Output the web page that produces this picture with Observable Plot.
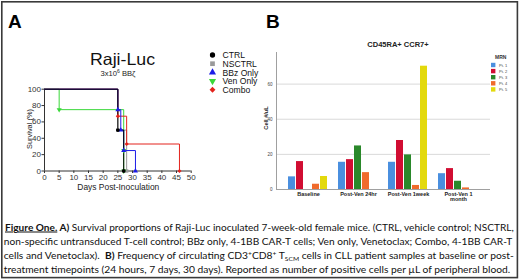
<!DOCTYPE html>
<html><head><meta charset="utf-8">
<script src="https://cdn.jsdelivr.net/npm/d3@7"></script>
<script src="https://cdn.jsdelivr.net/npm/@observablehq/plot@0.6"></script>
<style>
html,body{margin:0;padding:0;background:#fff;}
#wrap{position:relative;width:520px;height:280px;overflow:hidden;background:#fff;font-family:"Liberation Sans",Arial,sans-serif;}
#wrap > *{position:absolute;left:0;top:0;}
#bbars g[aria-label="fx-axis tick label"] text{font-weight:bold;}
</style></head><body><div id="wrap"></div>
<script>
// ---------- Panel A data: Kaplan-Meier survival ----------
const survGroups = ["CTRL", "NSCTRL", "BBz Only", "Ven Only", "Combo"];
const survColors = ["#000000", "#9a9a9a", "#1c1ce6", "#3ad83a", "#e3231c"];
const survSymbols = ["circle", "square", "triangle", "triangle", "diamond2"];
const ctrlDays = [0, 25, 27];           const ctrlSurv = [100, 50, 0];
const nsctrlDays = [0, 25, 28];         const nsctrlSurv = [100, 50, 0];
const bbzDays = [0, 25, 26, 27, 31];    const bbzSurv = [100, 75, 50, 25, 0];
const venDays = [0, 5, 27, 27];         const venSurv = [100, 75, 25, 0];
const comboDays = [0, 25, 28, 46];      const comboSurv = [100, 67, 33, 0];
const dayTicks = [0, 5, 10, 15, 20, 25, 30, 35, 40, 45, 50];
const survTicks = [0, 20, 40, 60, 80, 100];

// ---------- Panel B data: cells per uL ----------
const timepoints = ["Baseline", "Post-Ven 24hr", "Post-Ven 1week", "Post-Ven 1\nmonth"];
const patients = ["Pt. 1", "Pt. 2", "Pt. 3", "Pt. 4", "Pt. 5"];
const patientColors = ["#4a8fdf", "#d10d32", "#2a882a", "#f06a2c", "#e3d90c"];
const pt1 = [7.2, 15.5, 15.5, 9.0];
const pt2 = [15.9, 17.0, 27.9, 11.9];
const pt3 = [0, 24.8, 19.7, 4.7];
const pt4 = [3.0, 9.6, 2.3, 0.9];
const pt5 = [7.4, 0, 70.2, 0];
const cellTicks = [0, 20, 40, 60];

// ---------- build tables ----------
const survTable = [];
const addSeries = (g, days, surv) => days.forEach((d, i) => survTable.push({group: g, day: d, surv: surv[i]}));
addSeries("NSCTRL", nsctrlDays, nsctrlSurv);
addSeries("Ven Only", venDays, venSurv);
addSeries("Combo", comboDays, comboSurv);
addSeries("BBz Only", bbzDays, bbzSurv);
addSeries("CTRL", ctrlDays, ctrlSurv);

const ptValues = [pt1, pt2, pt3, pt4, pt5];
const barTable = [];
timepoints.forEach((t, i) => patients.forEach((p, j) => {
  const v = ptValues[j][i];
  if (v > 0) barTable.push({time: t, patient: p, value: v});
}));

const wrap = document.getElementById("wrap");
const FONT = "Liberation Sans, Arial, sans-serif";

// ---------- Panel A plot ----------
const plotA = Plot.plot({
  width: 260, height: 200,
  marginLeft: 44, marginRight: 69.3, marginTop: 88.7, marginBottom: 29.5,
  style: {background: "transparent", fontFamily: FONT, color: "#333", overflow: "visible"},
  x: {domain: [0, 50]},
  y: {domain: [0, 100]},
  color: {domain: survGroups, range: survColors},
  symbol: {domain: survGroups, range: survSymbols},
  marks: [
    Plot.axisX({ticks: dayTicks, tickSize: 2.5, tickPadding: 1, fontSize: 8, label: null}),
    Plot.axisY({ticks: survTicks, tickSize: 2.5, tickPadding: 1, fontSize: 8, label: null}),
    Plot.ruleX([0], {stroke: "#333"}),
    Plot.ruleY([0], {stroke: "#333"}),
    Plot.line(survTable, {x: "day", y: "surv", z: "group", stroke: "group", curve: "step-after", strokeWidth: 1}),
    Plot.dot(survTable.filter(d => d.day > 0), {
      x: "day", y: "surv", fill: "group", symbol: "group", r: 1.9,
      rotate: d => d.group === "Ven Only" ? 180 : 0
    })
  ]
});

// ---------- Panel B background (grid + y axis) ----------
const bDims = {width: 258, height: 200, marginLeft: 16, marginRight: 28, marginTop: 52, marginBottom: 11};
const plotBg = Plot.plot({
  ...bDims,
  style: {background: "transparent", fontFamily: FONT, color: "#444", overflow: "visible"},
  x: {domain: [0, 1], axis: null},
  y: {domain: [0, 78]},
  marks: [
    Plot.ruleY(cellTicks.filter(t => t > 0), {stroke: "#d9d9d9"}),
    Plot.ruleY([0], {stroke: "#a0a0a0"}),
    Plot.ruleX([0], {stroke: "#a0a0a0"}),
    Plot.axisY({ticks: cellTicks, tickSize: 0, tickPadding: 4, fontSize: 4.5, label: null})
  ]
});

// ---------- Panel B bars ----------
const plotB = Plot.plot({
  ...bDims,
  style: {background: "transparent", fontFamily: FONT, color: "#222", overflow: "visible"},
  fx: {domain: timepoints, paddingInner: 0, paddingOuter: 0.1, label: null},
  x: {domain: patients, paddingInner: 0.09, paddingOuter: 0.64, axis: null},
  y: {domain: [0, 78], axis: null},
  color: {domain: patients, range: patientColors},
  marks: [
    Plot.barY(barTable, {fx: "time", x: "patient", y: "value", fill: "patient"}),
    Plot.axisFx({anchor: "bottom", tickSize: 0, tickPadding: 2.5, fontSize: 5.5, label: null})
  ]
});
plotB.id = "bbars";

plotBg.style.left = "260px";
plotB.style.left = "260px";
wrap.appendChild(plotBg);
wrap.appendChild(plotB);
wrap.appendChild(plotA);

// ---------- overlay: labels, legends, caption, frame ----------
const symPath = (type, size) => d3.symbol(type, size)();
const legA = survGroups.map((g, i) => {
  const y = 55 + i * 8.7;
  const types = [d3.symbolCircle, d3.symbolSquare, d3.symbolTriangle, d3.symbolTriangle, d3.symbolDiamond2];
  const rot = g === "Ven Only" ? " rotate(180)" : "";
  return `<path d="${symPath(types[i], 22)}" transform="translate(212.5,${y})${rot}" fill="${survColors[i]}"/>
  <text x="222.5" y="${y + 3.2}" font-size="8.6" fill="#111">${g}</text>`;
}).join("");
const legB = patients.map((p, i) => {
  const y = 65 + i * 6.1;
  return `<rect x="491" y="${y - 2.2}" width="4.4" height="4.4" fill="${patientColors[i]}"/>
  <text x="499" y="${y + 1.5}" font-size="4" fill="#444">${p}</text>`;
}).join("");

const sup = (s) => `<tspan dy="-3.2" font-size="6.5">${s}</tspan><tspan dy="3.2">`;
const overlay = `
<svg width="520" height="280" xmlns="http://www.w3.org/2000/svg" style="font-family:${FONT}">
  <rect x="1.8" y="1.8" width="515.6" height="275.8" fill="none" stroke="#3a3a3a" stroke-width="1.6"/>
  <text x="8" y="28.3" font-size="19" font-weight="bold" fill="#000">A</text>
  <text x="266" y="28.3" font-size="19" font-weight="bold" fill="#000">B</text>
  <text x="122.5" y="65" font-size="16.5" text-anchor="middle" textLength="65" lengthAdjust="spacingAndGlyphs" fill="#111">Raji-Luc</text>
  <text x="118" y="76" font-size="7.6" text-anchor="middle" fill="#222">3x10<tspan dy="-3" font-size="5">6</tspan><tspan dy="3"> BBζ</tspan></text>
  <text transform="translate(31.8,129) rotate(-90)" font-size="7.4" text-anchor="middle" fill="#222">Survival (%)</text>
  <text x="118.3" y="190.3" font-size="8.2" text-anchor="middle" textLength="82" lengthAdjust="spacingAndGlyphs" fill="#222">Days Post-Inoculation</text>
  ${legA}
  <text x="398" y="47" font-size="7.5" font-weight="bold" text-anchor="middle" fill="#222">CD45RA+ CCR7+</text>
  <text transform="translate(267.5,118) rotate(-90)" font-size="5.6" font-weight="bold" text-anchor="middle" fill="#222">Cell #/uL</text>
  <text x="495" y="58.5" font-size="5" font-weight="bold" fill="#333">MRN</text>
  ${legB}
  <g font-family="Lato, 'Open Sans', sans-serif" font-size="10" fill="#111">
    <text x="5" y="230.5" textLength="508.7" lengthAdjust="spacingAndGlyphs"><tspan font-weight="bold" text-decoration="underline">Figure One.</tspan><tspan font-weight="bold"> A)</tspan> Survival proportions of Raji-Luc inoculated 7-week-old female mice. (CTRL, vehicle control; NSCTRL,</text>
    <text x="3.8" y="245" textLength="508.5" lengthAdjust="spacingAndGlyphs">non-specific untransduced T-cell control; BBz only, 4-1BB CAR-T cells; Ven only, Venetoclax; Combo, 4-1BB CAR-T</text>
    <text x="3.8" y="259.2" textLength="510" lengthAdjust="spacingAndGlyphs">cells and Venetoclax).&#160; <tspan font-weight="bold">B)</tspan> Frequency of circulating CD3${sup("+")}CD8${sup("+")} T<tspan dy="2.2" font-size="6.5">SCM</tspan><tspan dy="-2.2"> cells in CLL patient samples at baseline or post-</tspan></tspan></tspan></text>
    <text x="3.8" y="273.3" textLength="506.5" lengthAdjust="spacingAndGlyphs">treatment timepoints (24 hours, 7 days, 30 days). Reported as number of positive cells per µL of peripheral blood.</text>
  </g>
</svg>`;
const ov = document.createElement("div");
ov.innerHTML = overlay;
ov.style.pointerEvents = "none";
wrap.appendChild(ov);
</script>
</body></html>
